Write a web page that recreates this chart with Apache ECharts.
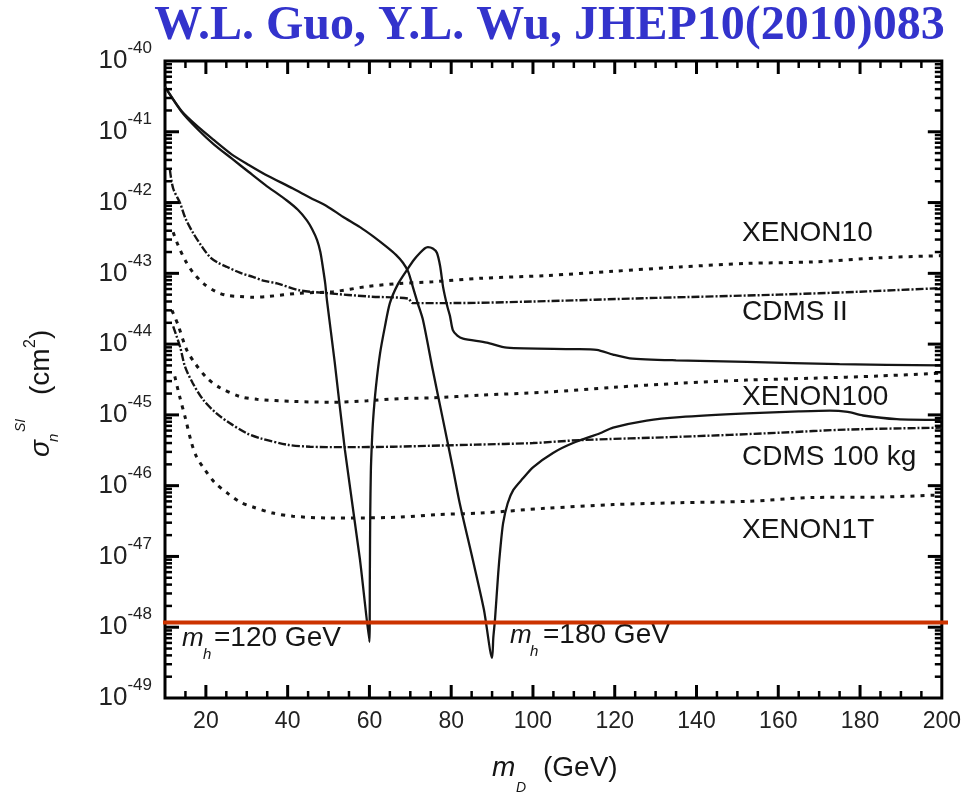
<!DOCTYPE html>
<html>
<head>
<meta charset="utf-8">
<script src="https://cdn.jsdelivr.net/npm/echarts@6/dist/echarts.min.js"></script>
<style>
  html, body { margin: 0; padding: 0; background: #fff; }
  #main { width: 964px; height: 794px; }
</style>
</head>
<body>
<div id="main"></div>
<script>
// dark matter mass m_D (GeV) and cross section sigma (cm^2)
const mh120X = [10, 14.1, 18.1, 22, 26.3, 30.5, 34.5, 39.8, 42.5, 44.7, 46, 47.2, 48, 48.6, 49.2, 49.6, 51.5, 54, 57.7, 60, 60.1, 60.2, 60.35, 60.6, 60.9, 61.6, 62.6, 63.8, 65, 67, 69.2, 71, 72.4, 73.5, 74.3, 75.5, 76.5, 77.3, 78, 79, 79.7, 80.4, 81.5, 82.9, 88.7, 93.6, 110, 115.6, 119.6, 123.7, 135, 152.3, 175, 200]
const mh120Sigma = [4.3e-41, 1.9e-41, 1.07e-41, 6.6e-42, 4.2e-42, 2.7e-42, 1.78e-42, 1.07e-42, 7.9e-43, 5.6e-43, 4.2e-43, 2.95e-43, 2.0e-43, 1.23e-43, 7.1e-44, 4.2e-44, 5.6e-45, 3.2e-46, 8.9e-48, 6.2e-49, 5.0e-48, 4.0e-47, 1.6e-46, 4.0e-46, 8.5e-46, 2.5e-45, 7.4e-45, 1.78e-44, 3.8e-44, 7.1e-44, 1.12e-43, 1.58e-43, 1.95e-43, 2.24e-43, 2.34e-43, 2.24e-43, 1.95e-43, 1.26e-43, 6.5e-44, 3.5e-44, 2.5e-44, 1.58e-44, 1.32e-44, 1.2e-44, 1.05e-44, 8.9e-45, 8.5e-45, 8.3e-45, 7.1e-45, 6.3e-45, 5.9e-45, 5.6e-45, 5.2e-45, 5.0e-45]

const mh180X = [10, 14.1, 18.1, 22, 26.3, 30.5, 34.5, 41.3, 45.5, 49.6, 53.5, 57.7, 61, 64.3, 66.5, 68.2, 69.5, 70.6, 71.8, 73.1, 75.5, 78, 80.4, 82.1, 85.3, 88, 90, 90.3, 90.7, 91.5, 92, 92.7, 93.8, 95.2, 97.5, 100, 104.9, 109.8, 116.4, 119.6, 127.8, 135.9, 152.3, 165, 172.6, 177, 180.7, 189, 200]
const mh180Sigma = [4.3e-41, 1.95e-41, 1.17e-41, 7.6e-42, 4.8e-42, 3.4e-42, 2.5e-42, 1.58e-42, 1.17e-42, 8.9e-43, 6.3e-43, 4.5e-43, 3.3e-43, 2.34e-43, 1.82e-43, 1.41e-43, 1.05e-43, 6.5e-44, 3.8e-44, 2.19e-44, 4.3e-45, 8.5e-46, 1.78e-46, 5.6e-47, 8.9e-48, 1.78e-48, 3.7e-49, 7.1e-49, 1.26e-48, 5.75e-48, 1.26e-47, 2.95e-47, 5.6e-47, 8.7e-47, 1.26e-46, 1.82e-46, 2.9e-46, 4.0e-46, 5.5e-46, 6.6e-46, 8.3e-46, 9.3e-46, 1.05e-45, 1.12e-45, 1.15e-45, 1.1e-45, 9.8e-46, 8.7e-46, 8.5e-46]

// experimental limits
const cdms2X = [11.2, 12, 13.7, 15, 16.9, 19, 21, 23, 25.2, 28.3, 31.5, 34, 37.4, 43, 49.6, 60, 69.5, 70.5, 80, 100, 130, 160, 180, 200]
const cdms2Sigma = [2.9e-42, 1.58e-42, 9.8e-43, 6.0e-43, 3.7e-43, 2.4e-43, 1.7e-43, 1.41e-43, 1.23e-43, 1.02e-43, 8.9e-44, 7.9e-44, 7.2e-44, 5.75e-44, 5.25e-44, 4.7e-44, 4.4e-44, 3.8e-44, 3.8e-44, 4.0e-44, 4.5e-44, 5.0e-44, 5.5e-44, 6.2e-44]

const xe10X = [12, 13.2, 15, 16.9, 19.5, 22.5, 25, 28.3, 31.5, 35, 43, 51.1, 59.4, 67.5, 75.5, 87, 103.4, 119.6, 135.9, 152.3, 168.5, 184.9, 200]
const xe10Sigma = [3.8e-43, 2.5e-43, 1.51e-43, 1.02e-43, 7.1e-44, 5.5e-44, 4.9e-44, 4.7e-44, 4.6e-44, 4.7e-44, 5.25e-44, 5.5e-44, 6.5e-44, 7.2e-44, 7.6e-44, 8.5e-44, 9.3e-44, 1.07e-43, 1.23e-43, 1.38e-43, 1.45e-43, 1.66e-43, 1.78e-43]

const xe100X = [11.7, 13.2, 15.3, 17.3, 20.3, 23.3, 28.3, 32.5, 41.3, 51.1, 59.4, 67.5, 75.5, 87, 103.4, 119.6, 135.9, 152.3, 168.5, 184.9, 200]
const xe100Sigma = [3.0e-44, 1.86e-44, 8.3e-45, 5.4e-45, 3.3e-45, 2.45e-45, 1.82e-45, 1.66e-45, 1.55e-45, 1.51e-45, 1.58e-45, 1.7e-45, 1.74e-45, 1.9e-45, 2.1e-45, 2.45e-45, 2.8e-45, 3.1e-45, 3.3e-45, 3.55e-45, 3.9e-45]

const cdms100X = [12, 13.7, 14.9, 16.8, 19.4, 22.6, 25.9, 30, 33.2, 39.8, 45.5, 53.6, 65.8, 78, 86, 100, 111.5, 135.9, 160.4, 176.7, 200]
const cdms100Sigma = [1.78e-44, 9.1e-45, 4.8e-45, 2.8e-45, 1.62e-45, 1.05e-45, 7.6e-46, 5.5e-46, 4.7e-46, 3.8e-46, 3.55e-46, 3.5e-46, 3.55e-46, 3.7e-46, 3.8e-46, 4.0e-46, 4.4e-46, 4.9e-46, 5.6e-46, 6.2e-46, 6.6e-46]

const xe1tX = [12.4, 13.5, 15, 16.5, 17.7, 19.8, 22.2, 25.2, 28.3, 31.5, 36.4, 41.3, 49.6, 57.7, 67.5, 76.5, 87, 103.4, 119.6, 135.9, 152.3, 168.5, 184.9, 200]
const xe1tSigma = [3.5e-45, 1.9e-45, 8.9e-46, 4.0e-46, 2.57e-46, 1.66e-46, 1.1e-46, 7.9e-47, 5.9e-47, 5.0e-47, 4.1e-47, 3.7e-47, 3.5e-47, 3.5e-47, 3.6e-47, 3.9e-47, 4.1e-47, 4.8e-47, 5.4e-47, 5.75e-47, 6.0e-47, 6.8e-47, 6.9e-47, 7.4e-47]

const redLineSigma = 1.17e-48

const limitNames = ['XENON10', 'CDMS II', 'XENON100', 'CDMS 100 kg', 'XENON1T']
const limitLabelY = [233, 312, 397, 457, 530]

const xMin = 10, xMax = 200
const yMinExp = -49, yMaxExp = -40

const SANS = '"Liberation Sans", Arial, sans-serif'
const INK = '#151515'

// curves go on a value axis of log10(sigma)
const toLog = (xs, ys) => xs.map((x, i) => [x, Math.log10(ys[i])])

// tick positions (axis decoration only)
const xTicks = []
for (let v = xMin + 5; v < xMax; v += 5) xTicks.push(v)
const yTicks = []
for (let n = yMinExp; n < yMaxExp; n++) {
  for (let k = 1; k <= 9; k++) {
    if (n === yMinExp && k === 1) continue
    yTicks.push([n + Math.log10(k), k === 1 ? 1 : 0])
  }
}

const main = document.getElementById('main')
const myChart = echarts.init(main, null, { renderer: 'canvas' })

function tickLine(x1, y1, x2, y2, w) {
  return { type: 'line', shape: { x1, y1, x2, y2 }, style: { stroke: '#000', lineWidth: w } }
}

const solid = { color: INK, width: 2.3, type: 'solid' }
const cdmsStyle = { color: INK, width: 2.4, type: [8, 2, 2, 2] }
const xenonStyle = { color: INK, width: 3, type: [4, 6] }

function curve(name, data, lineStyle, smooth) {
  return {
    name, type: 'line', data, showSymbol: false, symbol: 'none',
    smooth, lineStyle, silent: true, z: 3
  }
}

function txt(id, x, y, text, font, extra) {
  return {
    type: 'text', id, x, y, silent: true, z: 20,
    style: Object.assign({
      text, font, fill: INK,
      align: 'left', textAlign: 'left',
      verticalAlign: 'middle', textVerticalAlign: 'middle'
    }, extra || {})
  }
}

const graphics = [
  txt('title', 549.5, 27, 'W.L. Guo, Y.L. Wu, JHEP10(2010)083',
    'bold 48px "Liberation Serif", "Times New Roman", serif',
    { fill: '#3333cc', align: 'center', textAlign: 'center' }),
  // y axis name, rotated
  {
    type: 'group', id: 'yname', x: 41, y: 447, rotation: Math.PI / 2, silent: true,
    children: [
      txt('ys', -10, 0, 'σ', 'italic 28px ' + SANS),
      txt('yn', 5, 13, 'n', 'italic 15px ' + SANS),
      txt('ysi', 15, -20, 'SI', 'italic 14px ' + SANS),
      txt('ycm', 52, 0, '(cm', '28px ' + SANS),
      txt('y2', 99, -10, '2', '16px ' + SANS),
      txt('yp', 108, 0, ')', '28px ' + SANS)
    ]
  },
  // x axis name
  txt('xm', 492, 768, 'm', 'italic 28px ' + SANS),
  txt('xd', 516, 788, 'D', 'italic 14px ' + SANS),
  txt('xgev', 543, 768, '(GeV)', '28px ' + SANS),
  // higgs mass annotations
  txt('m1', 182, 639, 'm', 'italic 26px ' + SANS),
  txt('h1', 203, 655, 'h', 'italic 15px ' + SANS),
  txt('t1', 214, 638, '=120 GeV', '28px ' + SANS),
  txt('m2', 510, 636, 'm', 'italic 26px ' + SANS),
  txt('h2', 530, 652, 'h', 'italic 15px ' + SANS),
  txt('t2', 543, 635, '=180 GeV', '28px ' + SANS)
]
limitNames.forEach((name, i) => {
  graphics.push(txt('lab' + i, 742, limitLabelY[i], name, '28px ' + SANS))
})

myChart.setOption({
  animation: false,
  backgroundColor: '#fff',
  grid: {
    left: 165, right: 22, top: 61, bottom: 96,
    show: true, borderColor: '#000', borderWidth: 3, backgroundColor: 'transparent'
  },
  xAxis: {
    type: 'value', min: xMin, max: xMax, interval: 10,
    axisLine: { show: false }, axisTick: { show: false }, splitLine: { show: false },
    axisLabel: {
      margin: 12, fontSize: 23, fontFamily: SANS, color: '#222',
      formatter: v => (v % 20 === 0 ? String(v) : '')
    }
  },
  yAxis: {
    type: 'value', min: yMinExp, max: yMaxExp, interval: 1,
    axisLine: { show: false }, axisTick: { show: false }, splitLine: { show: false },
    axisLabel: {
      margin: 13,
      formatter: v => '{b|10}{s|' + Math.round(v) + '}',
      rich: {
        b: { fontSize: 26, fontFamily: SANS, color: '#222', lineHeight: 42 },
        s: { fontSize: 17, fontFamily: SANS, color: '#222', lineHeight: 17, verticalAlign: 'top' }
      }
    }
  },
  graphic: graphics,
  series: [
    curve('mh120', toLog(mh120X, mh120Sigma), solid, 0.25),
    curve('mh180', toLog(mh180X, mh180Sigma), solid, 0.25),
    curve('CDMS II', toLog(cdms2X, cdms2Sigma), cdmsStyle, 0.3),
    curve('XENON10', toLog(xe10X, xe10Sigma), xenonStyle, 0.3),
    curve('XENON100', toLog(xe100X, xe100Sigma), xenonStyle, 0.3),
    curve('CDMS 100 kg', toLog(cdms100X, cdms100Sigma), cdmsStyle, 0.3),
    curve('XENON1T', toLog(xe1tX, xe1tSigma), xenonStyle, 0.3),
    {
      // inward ticks on bottom and top edges
      type: 'custom', silent: true, z: 10,
      data: xTicks.map(v => [v, yMinExp]),
      renderItem: (params, api) => {
        const v = api.value(0)
        const b = api.coord([v, yMinExp])
        const t = api.coord([v, yMaxExp])
        const major = v % 20 === 0
        const len = major ? 13 : 7
        const w = major ? 3 : 2.5
        return { type: 'group', children: [
          tickLine(b[0], b[1], b[0], b[1] - len, w),
          tickLine(t[0], t[1], t[0], t[1] + len, w)
        ] }
      }
    },
    {
      // inward log ticks on left and right edges
      type: 'custom', silent: true, z: 10,
      data: yTicks.map(t => [xMin, t[0], t[1]]),
      renderItem: (params, api) => {
        const v = api.value(1)
        const major = api.value(2) === 1
        const l = api.coord([xMin, v])
        const r = api.coord([xMax, v])
        const len = major ? 14 : 7
        const w = major ? 3 : 2.5
        return { type: 'group', children: [
          tickLine(l[0], l[1], l[0] + len, l[1], w),
          tickLine(r[0], r[1], r[0] - len, r[1], w)
        ] }
      }
    }
  ]
})

// red reference line, slightly wider than the frame
const redY = myChart.convertToPixel({ yAxisIndex: 0 }, Math.log10(redLineSigma))
myChart.setOption({
  graphic: [{
    type: 'line', id: 'redline', silent: true, z: 30,
    shape: { x1: 163, y1: redY, x2: 948, y2: redY },
    style: { stroke: '#cc3300', lineWidth: 4 }
  }]
})
</script>
</body>
</html>
